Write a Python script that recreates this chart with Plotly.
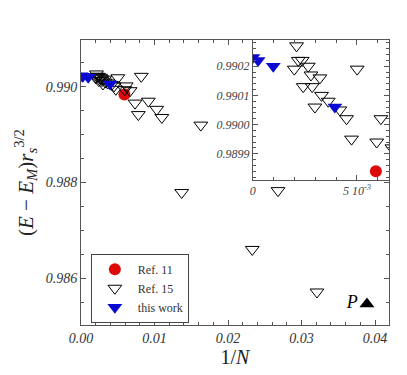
import plotly.graph_objects as go

# Ref. 11
ref11_x = [0.00591]
ref11_y = [0.98984]

# Ref. 15
ref15_x = [0.00210, 0.00218, 0.00237, 0.00199, 0.00266, 0.00279, 0.00322, 0.00242,
           0.00285, 0.00330, 0.00362, 0.00298, 0.00418, 0.00450, 0.00501, 0.00615,
           0.00474, 0.00595, 0.00668, 0.0082, 0.00735, 0.0078, 0.00916, 0.0103,
           0.0110, 0.0163, 0.0137, 0.0268, 0.0233, 0.0321]
ref15_y = [0.99027, 0.99022, 0.99022, 0.99019, 0.99020, 0.99017, 0.99016, 0.99013,
           0.99013, 0.99010, 0.99008, 0.99006, 0.99005, 0.99002, 0.99019, 0.99002,
           0.98995, 0.98994, 0.98992, 0.99022, 0.98966, 0.98942, 0.98970, 0.98953,
           0.98936, 0.98920, 0.98779, 0.98783, 0.98660, 0.98571]

# this work
this_x = [0.0, 0.00025, 0.00098, 0.00394]
this_y = [0.99023, 0.99022, 0.99020, 0.99006]

# P point
p_x = [0.0389]
p_y = [0.98546]

# tick labels
main_xticks = [0, 0.01, 0.02, 0.03, 0.04]
main_xlabels = ["0.00", "0.01", "0.02", "0.03", "0.04"]
main_yticks = [0.986, 0.988, 0.990]
main_ylabels = ["0.986", "0.988", "0.990"]
inset_xticks = [0, 0.005]
inset_xlabels = ["0", "5 10<sup>-3</sup>"]
inset_yticks = [0.9899, 0.99, 0.9901, 0.9902]
inset_ylabels = ["0.9899", "0.9900", "0.9901", "0.9902"]

serif = "Liberation Serif, Times New Roman, serif"
red = "#dd0a0a"
blue = "#0a0ad2"
grey = "#555555"


def ital(labels):
    return ["<i>" + s + "</i>" for s in labels]


fig = go.Figure()

for xa, ya, show in [("x", "y", True), ("x2", "y2", False)]:
    fig.add_trace(go.Scatter(
        x=ref11_x, y=ref11_y, mode="markers", name="Ref. 11", showlegend=show,
        marker=dict(symbol="circle", size=12, color=red),
        xaxis=xa, yaxis=ya))
    fig.add_trace(go.Scatter(
        x=ref15_x, y=ref15_y, mode="markers", name="Ref. 15", showlegend=show,
        marker=dict(symbol="triangle-down-open", size=12, color="black",
                    line=dict(width=1, color="black")),
        xaxis=xa, yaxis=ya))
    fig.add_trace(go.Scatter(
        x=this_x, y=this_y, mode="markers", name="this work", showlegend=show,
        marker=dict(symbol="triangle-down", size=13, color=blue),
        xaxis=xa, yaxis=ya))

fig.add_trace(go.Scatter(
    x=p_x, y=p_y, mode="markers+text", text=["<i>P</i>"], textposition="middle left",
    textfont=dict(family=serif, size=18, color="black"),
    marker=dict(symbol="triangle-up", size=13, color="black"), showlegend=False))

axis_common = dict(showline=True, linecolor=grey, linewidth=1, mirror="allticks",
                   ticks="inside", tickcolor=grey, ticklen=5, showgrid=False,
                   zeroline=False, automargin=False)

# the page body adds an 8px margin, so the figure is 8px smaller and shifted
fig.update_layout(
    width=399, height=367,
    margin=dict(l=73, r=18, t=32, b=50),
    paper_bgcolor="white", plot_bgcolor="white",
    font=dict(family=serif, color="#222222"),
    xaxis=dict(axis_common, range=[0, 0.0419], domain=[0, 1],
               tickvals=main_xticks, ticktext=ital(main_xlabels),
               tickfont=dict(family=serif, size=14, color="#333333"),
               minor=dict(dtick=0.002, ticks="inside", ticklen=3, tickcolor=grey),
               title=dict(text="1/<i>N</i>", font=dict(family=serif, size=20), standoff=1)),
    yaxis=dict(axis_common, range=[0.98502, 0.99098], domain=[0, 1],
               tickvals=main_yticks, ticktext=ital(main_ylabels),
               tickfont=dict(family=serif, size=14, color="#333333"),
               minor=dict(dtick=0.0005, ticks="inside", ticklen=3, tickcolor=grey),
               title=dict(text="(<i>E</i> − <i>E</i><sub><i>M</i></sub>)<i>r</i><sub><i>s</i></sub><sup>3/2</sup>",
                          font=dict(family=serif, size=21), standoff=6)),
    xaxis2=dict(axis_common, range=[0, 0.00654], domain=[0.558, 1], anchor="y2",
                tickvals=inset_xticks, ticktext=ital(inset_xlabels),
                tickfont=dict(family=serif, size=12, color="#444444"),
                minor=dict(dtick=0.001, ticks="inside", ticklen=3, tickcolor=grey)),
    yaxis2=dict(axis_common, range=[0.98981, 0.99029], domain=[0.509, 1], anchor="x2",
                tickvals=inset_yticks, ticktext=ital(inset_ylabels),
                tickfont=dict(family=serif, size=12, color="#444444"),
                minor=dict(dtick=0.00002, ticks="inside", ticklen=3, tickcolor=grey)),
    legend=dict(x=0.032, y=0.25, xanchor="left", yanchor="top",
                bordercolor="#444444", borderwidth=1, bgcolor="white",
                font=dict(family=serif, size=12, color="#333333"),
                itemwidth=36),
)

fig.write_html("out.html")
